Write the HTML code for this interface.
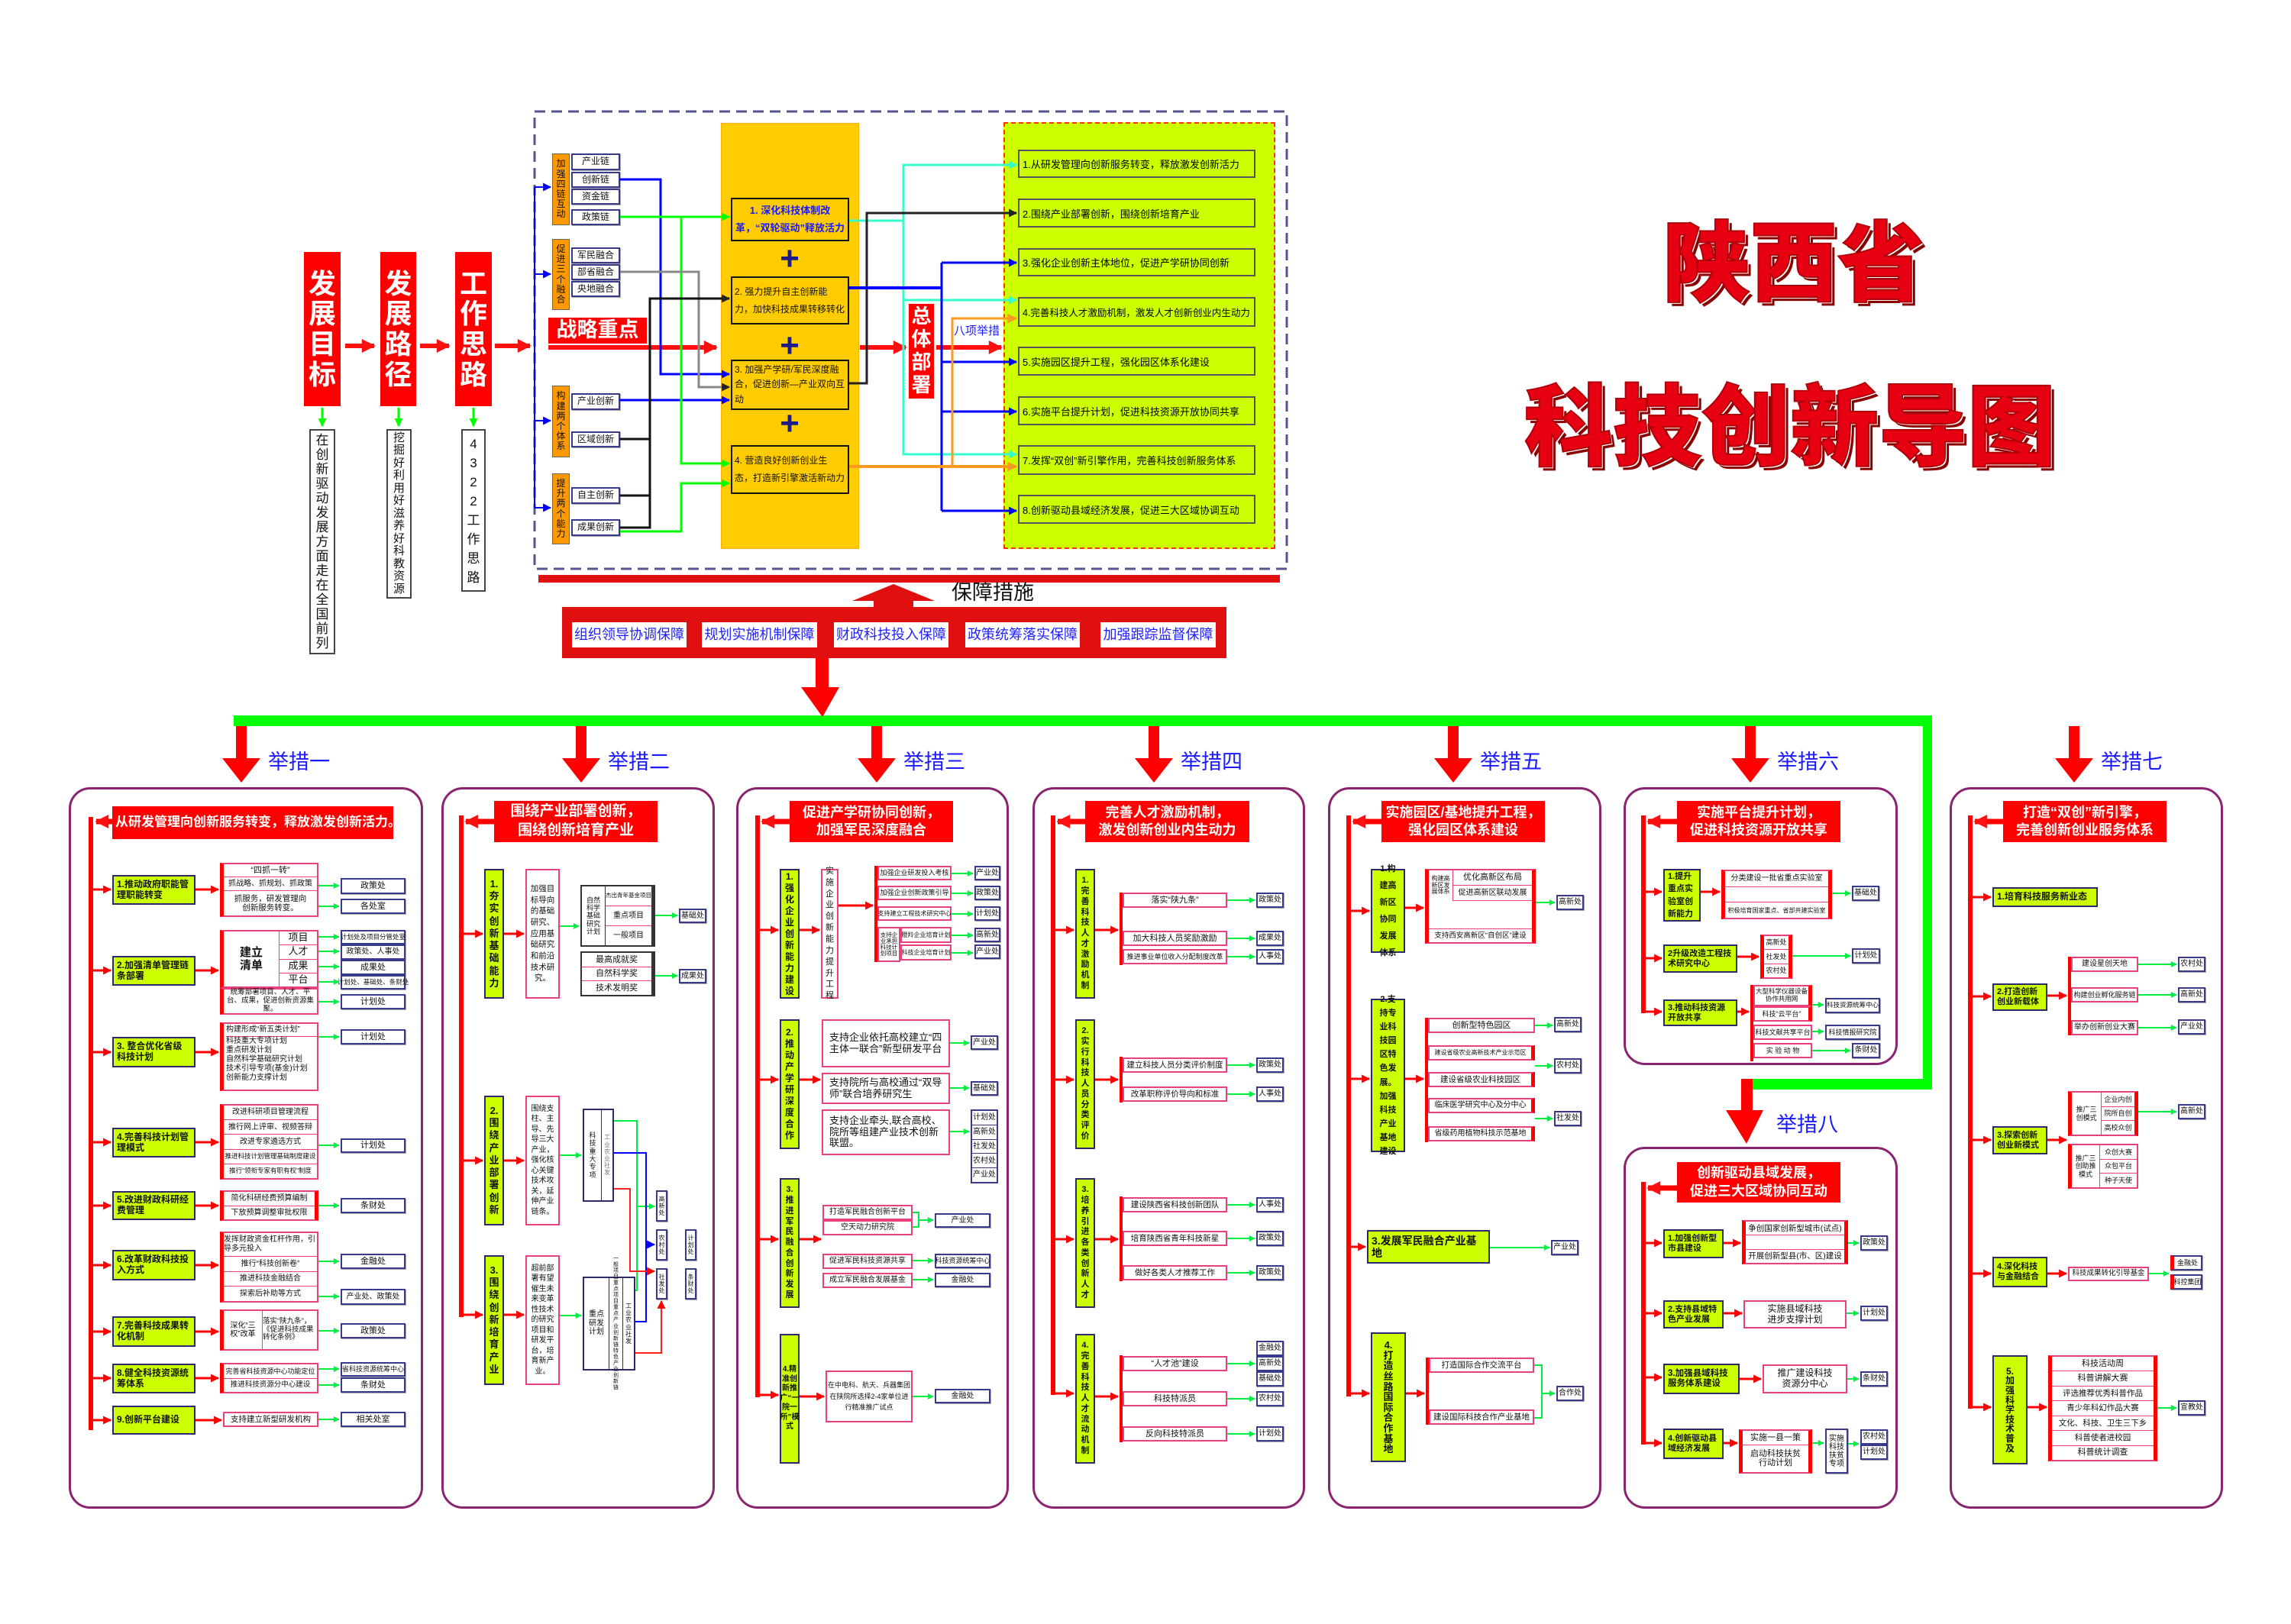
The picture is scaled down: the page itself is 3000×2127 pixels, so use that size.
<!DOCTYPE html>
<html><head><meta charset="utf-8">
<style>
*{margin:0;padding:0}
body{width:3000px;height:2127px;background:#fff;position:relative;overflow:hidden;font-family:"Liberation Sans","Noto Sans CJK SC",sans-serif}
.a{position:absolute;box-sizing:border-box;display:flex;align-items:center;justify-content:center;text-align:center;line-height:1.15;font-family:"Liberation Sans","Noto Sans CJK SC",sans-serif;color:#111}
.y{background:#ccff00;border:2px solid #2b2b6b;font-size:12px;font-weight:bold;justify-content:flex-start;text-align:left;padding:0 4px}
.v{background:#ccff00;border:2px solid #2b2b6b;font-size:13px;font-weight:bold;word-break:break-all;padding:4px 5px;line-height:1.25}
.p{background:#fff;border:2px solid #e8417e;font-size:11px}
.pv{background:#fff;border:2px solid #e8417e;font-size:11px;word-break:break-all;padding:3px 4px;line-height:1.35}
.o{background:#fff;border:2px solid #3a3a8a;font-size:11px;box-shadow:1px 1px 0 #aaa}
.t{background:#ff0000;color:#fff;font-weight:bold;font-size:19px;line-height:1.3}
.s{flex-direction:column;align-items:stretch}
.s>div{flex:1;display:flex;align-items:center;justify-content:center;border-bottom:1px solid #e8417e;font-size:11px}
.s>div:last-child{border-bottom:none}
.rl{border-left:5px solid #ff0000}
.rr{border-right:5px solid #ff0000}
.panel{position:absolute;border:3px solid #8b2470;border-radius:28px;box-sizing:border-box;background:#fff}
.lab{position:absolute;color:#1a1aff;font-size:27px;font-family:"Liberation Sans","Noto Sans CJK SC",sans-serif;line-height:1}
.big{position:absolute;color:#e60012;font-weight:900;font-family:"Liberation Sans","Noto Sans CJK SC",sans-serif;line-height:1;text-shadow:2px 2px 0 #fff,5px 5px 0 #8a0000;-webkit-text-stroke:2px #b0000a}
.e8{position:absolute;box-sizing:border-box;display:flex;align-items:center;left:1333px;width:311px;background:#ccff00;border:2px solid #555;font-size:13px;white-space:nowrap;padding-left:4px;font-family:"Liberation Sans","Noto Sans CJK SC",sans-serif;overflow:hidden}
.gb{background:#fff;color:#2020ff;font-size:18px;white-space:nowrap}
</style></head><body>

<div class="panel" style="left:90px;top:1031px;width:464px;height:945px"></div>
<div class="panel" style="left:578px;top:1031px;width:358px;height:945px"></div>
<div class="panel" style="left:964px;top:1031px;width:357px;height:945px"></div>
<div class="panel" style="left:1352px;top:1031px;width:357px;height:945px"></div>
<div class="panel" style="left:1739px;top:1031px;width:358px;height:945px"></div>
<div class="panel" style="left:2126px;top:1031px;width:359px;height:364px"></div>
<div class="panel" style="left:2126px;top:1502px;width:359px;height:474px"></div>
<div class="panel" style="left:2553px;top:1031px;width:358px;height:945px"></div>

<div class="a" style="left:944px;top:161px;width:181px;height:558px;background:#ffcc00;border:1px dotted #ff9900"></div>
<div class="a" style="left:1314px;top:160px;width:356px;height:559px;background:#ccff00;border:2px dashed #ff3300"></div>

<div class="a" style="left:306px;top:937px;width:2224px;height:14px;background:#00ff00"></div>
<div class="a" style="left:2518px;top:937px;width:12px;height:490px;background:#00ff00"></div>
<div class="a" style="left:2294px;top:1413px;width:236px;height:14px;background:#00ff00"></div>

<div class="a" style="left:705px;top:753px;width:971px;height:10px;background:#e01010"></div>
<div class="a" style="left:736px;top:795px;width:870px;height:67px;background:#e01010"></div>
<div class="a gb" style="left:749px;top:815px;width:150px;height:33px">组织领导协调保障</div>
<div class="a gb" style="left:919px;top:815px;width:151px;height:33px">规划实施机制保障</div>
<div class="a gb" style="left:1092px;top:815px;width:150px;height:33px">财政科技投入保障</div>
<div class="a gb" style="left:1264px;top:815px;width:150px;height:33px">政策统筹落实保障</div>
<div class="a gb" style="left:1441px;top:815px;width:151px;height:33px">加强跟踪监督保障</div>
<div class="a" style="left:1245px;top:761px;width:110px;height:32px;font-size:27px;color:#111">保障措施</div>

<div class="big" style="left:2178px;top:290px;font-size:114px">陕西省</div>
<div class="big" style="left:1996px;top:502px;font-size:116px">科技创新导图</div>

<div class="a t" style="left:398px;top:330px;width:48px;height:202px;font-size:36px;word-break:break-all;line-height:1.1;padding:0 6px">发展目标</div>
<div class="a t" style="left:498px;top:330px;width:47px;height:202px;font-size:36px;word-break:break-all;line-height:1.1;padding:0 6px">发展路径</div>
<div class="a t" style="left:596px;top:330px;width:48px;height:202px;font-size:36px;word-break:break-all;line-height:1.1;padding:0 6px">工作思路</div>
<div class="a" style="left:405px;top:562px;width:34px;height:295px;border:2px solid #444;font-size:17px;word-break:break-all;line-height:19px;padding:0 7px">在创新驱动发展方面走在全国前列</div>
<div class="a" style="left:506px;top:562px;width:33px;height:222px;border:2px solid #444;font-size:15px;word-break:break-all;line-height:16.5px;padding:0 7px">挖掘好利用好滋养好科教资源</div>
<div class="a" style="left:604px;top:562px;width:32px;height:213px;border:2px solid #444;font-size:17px;word-break:break-all;line-height:25px;padding:0 6px">4322工作思路</div>

<div class="a" style="left:723px;top:201px;width:23px;height:94px;background:#ff9900;border:1px solid #666;font-size:12px;word-break:break-all;padding:0 4px;line-height:1.1">加强四链互动</div>
<div class="a" style="left:723px;top:313px;width:23px;height:93px;background:#ff9900;border:1px solid #666;font-size:12px;word-break:break-all;padding:0 4px;line-height:1.1">促进三个融合</div>
<div class="a" style="left:723px;top:505px;width:23px;height:94px;background:#ff9900;border:1px solid #666;font-size:12px;word-break:break-all;padding:0 4px;line-height:1.1">构建两个体系</div>
<div class="a" style="left:723px;top:620px;width:23px;height:93px;background:#ff9900;border:1px solid #666;font-size:12px;word-break:break-all;padding:0 4px;line-height:1.1">提升两个能力</div>
<div class="a o" style="left:748px;top:201px;width:64px;height:22px;font-size:12px">产业链</div>
<div class="a o" style="left:748px;top:225px;width:64px;height:21px;font-size:12px">创新链</div>
<div class="a o" style="left:748px;top:247px;width:64px;height:21px;font-size:12px">资金链</div>
<div class="a o" style="left:748px;top:274px;width:64px;height:21px;font-size:12px">政策链</div>
<div class="a o" style="left:748px;top:324px;width:64px;height:21px;font-size:12px">军民融合</div>
<div class="a o" style="left:748px;top:346px;width:64px;height:21px;font-size:12px">部省融合</div>
<div class="a o" style="left:748px;top:368px;width:64px;height:21px;font-size:12px">央地融合</div>
<div class="a o" style="left:748px;top:515px;width:64px;height:22px;font-size:12px">产业创新</div>
<div class="a o" style="left:748px;top:565px;width:64px;height:21px;font-size:12px">区域创新</div>
<div class="a o" style="left:748px;top:638px;width:64px;height:22px;font-size:12px">自主创新</div>
<div class="a o" style="left:748px;top:680px;width:64px;height:22px;font-size:12px">成果创新</div>
<div class="a t" style="left:718px;top:416px;width:129px;height:34px;font-size:27px">战略重点</div>

<div class="a" style="left:957px;top:259px;width:155px;height:57px;background:#ffcc00;border:2px solid #111;font-size:13px;font-weight:bold;color:#1a1aff;line-height:1.7;padding:0 3px">1. 深化科技体制改革，“双轮驱动”释放活力</div>
<div class="a" style="left:957px;top:362px;width:155px;height:63px;background:#ffcc00;border:2px solid #111;font-size:12px;line-height:1.9;padding:0 3px;justify-content:flex-start;text-align:left">2. 强力提升自主创新能力，加快科技成果转移转化</div>
<div class="a" style="left:957px;top:471px;width:155px;height:66px;background:#ffcc00;border:2px solid #111;font-size:12px;line-height:1.6;padding:0 3px;justify-content:flex-start;text-align:left">3. 加强产学研/军民深度融合，促进创新—产业双向互动</div>
<div class="a" style="left:957px;top:583px;width:155px;height:64px;background:#ffcc00;border:2px solid #111;font-size:12px;line-height:1.9;padding:0 3px;justify-content:flex-start;text-align:left">4. 营造良好创新创业生态，打造新引擎激活新动力</div>
<div class="a" style="left:1016px;top:321px;width:36px;height:36px;font-size:44px;font-weight:bold;color:#1a1a8a">+</div>
<div class="a" style="left:1016px;top:435px;width:36px;height:36px;font-size:44px;font-weight:bold;color:#1a1a8a">+</div>
<div class="a" style="left:1016px;top:537px;width:36px;height:36px;font-size:44px;font-weight:bold;color:#1a1a8a">+</div>
<div class="a t" style="left:1190px;top:398px;width:33px;height:124px;font-size:26px;word-break:break-all;line-height:1.15;padding:0 4px">总体部署</div>
<div class="a" style="left:1248px;top:424px;width:62px;height:20px;font-size:15px;color:#1a1aff">八项举措</div>

<div class="e8" style="top:196px;height:37px">1.从研发管理向创新服务转变，释放激发创新活力</div>
<div class="e8" style="top:260px;height:38px">2.围绕产业部署创新，围绕创新培育产业</div>
<div class="e8" style="top:325px;height:37px">3.强化企业创新主体地位，促进产学研协同创新</div>
<div class="e8" style="top:389px;height:39px;font-size:12.5px">4.完善科技人才激励机制，激发人才创新创业内生动力</div>
<div class="e8" style="top:454px;height:38px">5.实施园区提升工程，强化园区体系化建设</div>
<div class="e8" style="top:519px;height:38px">6.实施平台提升计划，促进科技资源开放协同共享</div>
<div class="e8" style="top:583px;height:39px">7.发挥“双创”新引擎作用，完善科技创新服务体系</div>
<div class="e8" style="top:648px;height:38px">8.创新驱动县域经济发展，促进三大区域协调互动</div>

<div class="lab" style="left:351px;top:985px">举措一</div>
<div class="lab" style="left:796px;top:985px">举措二</div>
<div class="lab" style="left:1183px;top:985px">举措三</div>
<div class="lab" style="left:1546px;top:985px">举措四</div>
<div class="lab" style="left:1938px;top:985px">举措五</div>
<div class="lab" style="left:2327px;top:985px">举措六</div>
<div class="lab" style="left:2751px;top:985px">举措七</div>
<div class="lab" style="left:2326px;top:1460px">举措八</div>

<!-- Panel 1 -->
<div class="a t" style="left:147px;top:1056px;width:368px;height:43px;font-size:17px;white-space:nowrap;justify-content:flex-start;padding-left:4px">从研发管理向创新服务转变，释放激发创新活力。</div>
<div class="a y" style="left:147px;top:1146px;width:109px;height:39px">1.推动政府职能管理职能转变</div>
<div class="a y" style="left:147px;top:1252px;width:109px;height:39px">2.加强清单管理链条部署</div>
<div class="a y" style="left:147px;top:1358px;width:109px;height:40px">3. 整合优化省级科技计划</div>
<div class="a y" style="left:147px;top:1477px;width:109px;height:39px">4.完善科技计划管理模式</div>
<div class="a y" style="left:147px;top:1560px;width:109px;height:38px">5.改进财政科研经费管理</div>
<div class="a y" style="left:147px;top:1637px;width:109px;height:40px">6.改革财政科技投入方式</div>
<div class="a y" style="left:147px;top:1724px;width:109px;height:40px">7.完善科技成果转化机制</div>
<div class="a y" style="left:147px;top:1786px;width:109px;height:39px">8.健全科技资源统筹体系</div>
<div class="a y" style="left:147px;top:1841px;width:109px;height:38px">9.创新平台建设</div>

<div class="a p s rl" style="left:288px;top:1130px;width:129px;height:71px"><div>“四抓一转”</div><div style="font-size:10px">抓战略、抓规划、抓政策</div><div style="flex:2;font-size:10.5px">抓服务，研发管理向<br>创新服务转变。</div></div>
<div class="a p rl" style="left:288px;top:1218px;width:129px;height:76px;align-items:stretch;justify-content:flex-start"><div style="width:44px;border-right:1px solid #e8417e;font-size:15px;font-weight:bold;display:flex;align-items:center;justify-content:center;word-break:break-all;padding:0 14px">建立清单</div><div class="s" style="display:flex;flex:1"><div style="font-size:13px">项目</div><div style="font-size:13px">人才</div><div style="font-size:13px">成果</div><div style="font-size:13px">平台</div></div></div>
<div class="a p rl" style="left:288px;top:1294px;width:129px;height:35px;font-size:9.5px">统筹部署项目、人才、平台、成果，促进创新资源集聚。</div>
<div class="a p rl" style="left:288px;top:1339px;width:129px;height:90px;flex-direction:column;align-items:flex-start;justify-content:flex-start;text-align:left;font-size:10px;padding-left:3px"><div style="border-bottom:1px solid #e8417e;width:100%;padding:2px 0">构建形成“新五类计划”</div><div style="line-height:1.2">科技重大专项计划<br>重点研发计划<br>自然科学基础研究计划<br>技术引导专项(基金)计划<br>创新能力支撑计划</div></div>
<div class="a p s rl" style="left:288px;top:1446px;width:129px;height:99px"><div style="font-size:10px">改进科研项目管理流程</div><div style="font-size:10px">推行网上评审、视频答辩</div><div style="font-size:10px">改进专家遴选方式</div><div style="font-size:8.5px;white-space:nowrap">推进科技计划管理基础制度建设</div><div style="font-size:8.5px;white-space:nowrap">推行“领衔专家有职有权”制度</div></div>
<div class="a p s rl rr" style="left:288px;top:1559px;width:129px;height:40px"><div style="font-size:10px">简化科研经费预算编制</div><div style="font-size:10px">下放预算调整审批权限</div></div>
<div class="a p s rl" style="left:288px;top:1613px;width:129px;height:93px"><div style="flex:1.6;text-align:left;font-size:10px">发挥财政资金杠杆作用，引导多元投入</div><div style="font-size:10px">推行“科技创新卷”</div><div style="font-size:10px">推进科技金融结合</div><div style="font-size:10px">探索后补助等方式</div></div>
<div class="a p rl" style="left:288px;top:1715px;width:129px;height:54px;align-items:stretch"><div style="width:50px;border-right:1px solid #e8417e;display:flex;align-items:center;justify-content:center;font-size:10px">深化“三权”改革</div><div style="flex:1;display:flex;align-items:center;font-size:9.5px;text-align:left">落实“陕九条”，《促进科技成果转化条例》</div></div>
<div class="a p s rl" style="left:288px;top:1785px;width:129px;height:40px"><div style="font-size:9px;white-space:nowrap">完善省科技资源中心功能定位</div><div style="font-size:9.5px">推进科技资源分中心建设</div></div>
<div class="a p" style="left:292px;top:1849px;width:125px;height:20px;font-size:10.5px">支持建立新型研发机构</div>

<div class="a o" style="left:446px;top:1150px;width:85px;height:21px">政策处</div>
<div class="a o" style="left:446px;top:1177px;width:85px;height:20px">各处室</div>
<div class="a o" style="left:446px;top:1218px;width:85px;height:19px;font-size:8.5px;white-space:nowrap">计划处及项目分管处室</div>
<div class="a o" style="left:446px;top:1237px;width:85px;height:20px;font-size:10px">政策处、人事处</div>
<div class="a o" style="left:446px;top:1257px;width:85px;height:20px">成果处</div>
<div class="a o" style="left:446px;top:1277px;width:85px;height:19px;font-size:8.5px;white-space:nowrap">计划处、基础处、条财处</div>
<div class="a o" style="left:446px;top:1302px;width:85px;height:20px">计划处</div>
<div class="a o" style="left:446px;top:1348px;width:85px;height:20px">计划处</div>
<div class="a o" style="left:446px;top:1491px;width:85px;height:19px">计划处</div>
<div class="a o" style="left:446px;top:1569px;width:85px;height:20px">条财处</div>
<div class="a o" style="left:446px;top:1642px;width:85px;height:20px">金融处</div>
<div class="a o" style="left:446px;top:1688px;width:85px;height:21px;font-size:10px">产业处、政策处</div>
<div class="a o" style="left:446px;top:1733px;width:85px;height:20px">政策处</div>
<div class="a o" style="left:446px;top:1784px;width:85px;height:19px;font-size:9px;white-space:nowrap">省科技资源统筹中心</div>
<div class="a o" style="left:446px;top:1804px;width:85px;height:20px">条财处</div>
<div class="a o" style="left:446px;top:1849px;width:85px;height:20px">相关处室</div>

<!-- Panel 2 -->
<div class="a t" style="left:647px;top:1049px;width:214px;height:54px;font-size:19px">围绕产业部署创新，<br>围绕创新培育产业</div>
<div class="a v" style="left:634px;top:1138px;width:26px;height:170px">1.夯实创新基础能力</div>
<div class="a v" style="left:634px;top:1435px;width:26px;height:170px">2.围绕产业部署创新</div>
<div class="a v" style="left:634px;top:1644px;width:26px;height:170px">3.围绕创新培育产业</div>
<div class="a pv" style="left:688px;top:1138px;width:45px;height:170px;font-size:10.5px;line-height:1.4">加强目标导向的基础研究、应用基础研究和前沿技术研究。</div>
<div class="a pv" style="left:688px;top:1435px;width:45px;height:170px;font-size:10px">围绕支柱、主导、先导三大产业，强化核心关键技术攻关，延伸产业链条。</div>
<div class="a pv" style="left:688px;top:1644px;width:45px;height:170px;font-size:10px">超前部署有望催生未来变革性技术的研究项目和研发平台，培育新产业。</div>
<div class="a p rr" style="left:760px;top:1159px;width:98px;height:81px;align-items:stretch;border-color:#333"><div style="width:28px;border-right:1px solid #333;font-size:9px;display:flex;align-items:center;word-break:break-all;padding:0 2px">自然科学基础研究计划</div><div class="s" style="display:flex;flex:1"><div style="font-size:7.5px;white-space:nowrap">杰出青年基金项目</div><div style="font-size:10px">重点项目</div><div style="font-size:10px">一般项目</div></div></div>
<div class="a p s rr" style="left:760px;top:1246px;width:98px;height:59px;border-color:#333"><div>最高成就奖</div><div>自然科学奖</div><div>技术发明奖</div></div>
<div class="a o" style="left:889px;top:1190px;width:36px;height:19px;font-size:10px">基础处</div>
<div class="a o" style="left:889px;top:1269px;width:36px;height:19px;font-size:10px">成果处</div>
<div class="a" style="left:763px;top:1452px;width:41px;height:122px;border:2px solid #2b2b6b;align-items:stretch;background:#fff"><div style="flex:1;font-size:9px;word-break:break-all;display:flex;align-items:center;padding:0 4px;border-right:1px solid #2b2b6b">科技重大专项</div><div style="width:14px;font-size:8px;color:#777;display:flex;flex-direction:column;justify-content:space-around;word-break:break-all">工业农业社发</div></div>
<div class="a" style="left:763px;top:1672px;width:69px;height:123px;border:2px solid #2b2b6b;align-items:stretch;background:#fff"><div style="width:22px;font-size:10px;word-break:break-all;display:flex;align-items:center;padding:0 5px;border-right:1px solid #2b2b6b">重点研发计划</div><div style="flex:1;font-size:7px;word-break:break-all;display:flex;align-items:center;padding:0 2px;border-right:1px solid #2b2b6b">一般项目重点项目重点产业创新链特色产业创新链</div><div style="width:14px;font-size:8px;word-break:break-all;display:flex;align-items:center">工业农业社发</div></div>
<div class="a o" style="left:859px;top:1559px;width:15px;height:41px;font-size:8px;word-break:break-all">高新处</div>
<div class="a o" style="left:859px;top:1610px;width:15px;height:41px;font-size:8px;word-break:break-all">农村处</div>
<div class="a o" style="left:859px;top:1661px;width:15px;height:41px;font-size:8px;word-break:break-all">社发处</div>
<div class="a o" style="left:897px;top:1610px;width:15px;height:41px;font-size:8px;word-break:break-all">计划处</div>
<div class="a o" style="left:897px;top:1661px;width:15px;height:41px;font-size:8px;word-break:break-all">条财处</div>

<!-- Panel 3 -->
<div class="a t" style="left:1034px;top:1049px;width:214px;height:54px;font-size:18px">促进产学研协同创新，<br>加强军民深度融合</div>
<div class="a v" style="left:1021px;top:1138px;width:26px;height:170px;font-size:12px">1.强化企业创新能力建设</div>
<div class="a v" style="left:1021px;top:1335px;width:26px;height:170px;font-size:12px">2.推动产学研深度合作</div>
<div class="a v" style="left:1021px;top:1543px;width:26px;height:170px;font-size:11px">3.推进军民融合创新发展</div>
<div class="a v" style="left:1021px;top:1747px;width:26px;height:170px;font-size:10px;padding:2px">4.精准创新推广“一院一所”模式</div>
<div class="a pv" style="left:1075px;top:1138px;width:23px;height:170px;padding:2px 5px">实施企业创新能力提升工程</div>
<div class="a" style="left:1145px;top:1134px;width:4px;height:126px;background:#ff0000"></div>
<div class="a p" style="left:1149px;top:1134px;width:97px;height:19px;font-size:9px;white-space:nowrap">加强企业研发投入考核</div>
<div class="a p" style="left:1149px;top:1160px;width:97px;height:19px;font-size:9px;white-space:nowrap">加强企业创新政策引导</div>
<div class="a p" style="left:1149px;top:1187px;width:97px;height:19px;font-size:8px;white-space:nowrap">支持建立工程技术研究中心</div>
<div class="a p" style="left:1149px;top:1214px;width:30px;height:46px;font-size:7.5px;line-height:1.05">支持企业承担科技计划项目</div>
<div class="a p" style="left:1179px;top:1214px;width:67px;height:21px;font-size:8px;white-space:nowrap">瞪羚企业培育计划</div>
<div class="a p" style="left:1179px;top:1237px;width:67px;height:21px;font-size:8px;white-space:nowrap">科技企业培育计划</div>
<div class="a o" style="left:1276px;top:1134px;width:34px;height:19px;font-size:10px">产业处</div>
<div class="a o" style="left:1276px;top:1160px;width:34px;height:19px;font-size:10px">政策处</div>
<div class="a o" style="left:1276px;top:1187px;width:34px;height:19px;font-size:10px">计划处</div>
<div class="a o" style="left:1276px;top:1215px;width:34px;height:19px;font-size:10px">高新处</div>
<div class="a o" style="left:1276px;top:1237px;width:34px;height:19px;font-size:10px">产业处</div>
<div class="a p" style="left:1076px;top:1335px;width:168px;height:63px;font-size:13px;text-align:left;justify-content:flex-start;padding:0 8px">支持企业依托高校建立“四主体一联合”新型研发平台</div>
<div class="a p" style="left:1076px;top:1405px;width:168px;height:41px;font-size:13px;text-align:left;justify-content:flex-start;padding:0 8px">支持院所与高校通过“双导师”联合培养研究生</div>
<div class="a p" style="left:1076px;top:1453px;width:168px;height:60px;font-size:13px;text-align:left;justify-content:flex-start;padding:0 8px">支持企业牵头,联合高校、院所等组建产业技术创新联盟。</div>
<div class="a o" style="left:1271px;top:1356px;width:36px;height:19px;font-size:10px">产业处</div>
<div class="a o" style="left:1271px;top:1416px;width:36px;height:19px;font-size:10px">基础处</div>
<div class="a o s" style="left:1271px;top:1453px;width:36px;height:97px;box-shadow:none"><div style="border-color:#3a3a8a;font-size:10px">计划处</div><div style="border-color:#3a3a8a;font-size:10px">高新处</div><div style="border-color:#3a3a8a;font-size:10px">社发处</div><div style="border-color:#3a3a8a;font-size:10px">农村处</div><div style="font-size:10px">产业处</div></div>
<div class="a p" style="left:1077px;top:1578px;width:118px;height:20px;font-size:10px">打造军民融合创新平台</div>
<div class="a p" style="left:1077px;top:1598px;width:118px;height:20px;font-size:10px">空天动力研究院</div>
<div class="a o" style="left:1224px;top:1589px;width:73px;height:19px;font-size:10px">产业处</div>
<div class="a p" style="left:1077px;top:1642px;width:118px;height:20px;font-size:10px">促进军民科技资源共享</div>
<div class="a p" style="left:1077px;top:1667px;width:118px;height:20px;font-size:10px">成立军民融合发展基金</div>
<div class="a o" style="left:1224px;top:1642px;width:73px;height:19px;font-size:9px;white-space:nowrap">科技资源统筹中心</div>
<div class="a o" style="left:1224px;top:1667px;width:73px;height:19px;font-size:10px">金融处</div>
<div class="a p" style="left:1081px;top:1795px;width:114px;height:68px;font-size:9px;line-height:1.6">在中电科、航天、兵器集团在陕院所选择2-4家单位进行精准推广试点</div>
<div class="a o" style="left:1224px;top:1819px;width:73px;height:19px;font-size:10px">金融处</div>

<!-- Panel 4 -->
<div class="a t" style="left:1421px;top:1049px;width:215px;height:54px;font-size:18px">完善人才激励机制，<br>激发创新创业内生动力</div>
<div class="a v" style="left:1408px;top:1138px;width:26px;height:170px;font-size:11px">1.完善科技人才激励机制</div>
<div class="a v" style="left:1408px;top:1335px;width:26px;height:170px;font-size:11px">2.实行科技人员分类评价</div>
<div class="a v" style="left:1408px;top:1543px;width:26px;height:170px;font-size:11px">3.培养引进各类创新人才</div>
<div class="a v" style="left:1408px;top:1747px;width:26px;height:170px;font-size:11px">4.完善科技人才流动机制</div>
<div class="a" style="left:1466px;top:1169px;width:4px;height:95px;background:#ff0000"></div>
<div class="a" style="left:1466px;top:1384px;width:4px;height:60px;background:#ff0000"></div>
<div class="a" style="left:1466px;top:1567px;width:4px;height:111px;background:#ff0000"></div>
<div class="a" style="left:1466px;top:1775px;width:4px;height:114px;background:#ff0000"></div>
<div class="a p" style="left:1470px;top:1169px;width:137px;height:20px;font-size:11px">落实“陕九条”</div>
<div class="a p" style="left:1470px;top:1219px;width:137px;height:20px;font-size:11px">加大科技人员奖励激励</div>
<div class="a p" style="left:1470px;top:1243px;width:137px;height:20px;font-size:9px;white-space:nowrap">推进事业单位收入分配制度改革</div>
<div class="a p" style="left:1470px;top:1385px;width:137px;height:20px;font-size:10.5px">建立科技人员分类评价制度</div>
<div class="a p" style="left:1470px;top:1423px;width:137px;height:20px;font-size:10.5px">改革职称评价导向和标准</div>
<div class="a p" style="left:1470px;top:1568px;width:137px;height:20px;font-size:10.5px">建设陕西省科技创新团队</div>
<div class="a p" style="left:1470px;top:1612px;width:137px;height:20px;font-size:10.5px">培育陕西省青年科技新星</div>
<div class="a p" style="left:1470px;top:1657px;width:137px;height:20px;font-size:10.5px">做好各类人才推荐工作</div>
<div class="a p" style="left:1470px;top:1776px;width:137px;height:20px;font-size:11px">“人才池”建设</div>
<div class="a p" style="left:1470px;top:1822px;width:137px;height:20px;font-size:11px">科技特派员</div>
<div class="a p" style="left:1470px;top:1868px;width:137px;height:20px;font-size:11px">反向科技特派员</div>
<div class="a o" style="left:1645px;top:1169px;width:36px;height:20px;font-size:10px">政策处</div>
<div class="a o" style="left:1645px;top:1219px;width:36px;height:20px;font-size:10px">成果处</div>
<div class="a o" style="left:1645px;top:1243px;width:36px;height:20px;font-size:10px">人事处</div>
<div class="a o" style="left:1645px;top:1385px;width:36px;height:20px;font-size:10px">政策处</div>
<div class="a o" style="left:1645px;top:1423px;width:36px;height:20px;font-size:10px">人事处</div>
<div class="a o" style="left:1645px;top:1568px;width:36px;height:20px;font-size:10px">人事处</div>
<div class="a o" style="left:1645px;top:1612px;width:36px;height:20px;font-size:10px">政策处</div>
<div class="a o" style="left:1645px;top:1657px;width:36px;height:20px;font-size:10px">政策处</div>
<div class="a o" style="left:1645px;top:1756px;width:36px;height:20px;font-size:10px">金融处</div>
<div class="a o" style="left:1645px;top:1776px;width:36px;height:20px;font-size:10px">高新处</div>
<div class="a o" style="left:1645px;top:1796px;width:36px;height:20px;font-size:10px">基础处</div>
<div class="a o" style="left:1645px;top:1822px;width:36px;height:20px;font-size:10px">农村处</div>
<div class="a o" style="left:1645px;top:1868px;width:36px;height:20px;font-size:10px">计划处</div>

<!-- Panel 5 -->
<div class="a t" style="left:1809px;top:1049px;width:214px;height:54px;font-size:18px">实施园区/基地提升工程，<br>强化园区体系建设</div>
<div class="a v" style="left:1795px;top:1138px;width:45px;height:110px;font-size:11px;line-height:2">1.构建高新区协同发展体系</div>
<div class="a p rl rr" style="left:1866px;top:1138px;width:145px;height:98px"></div>
<div class="a" style="left:1871px;top:1140px;width:32px;height:40px;font-size:8px;line-height:1.1;border-right:1px solid #e8417e">构建高新区发展体系</div>
<div class="a" style="left:1903px;top:1140px;width:103px;height:20px;font-size:11px;border-bottom:1px solid #e8417e">优化高新区布局</div>
<div class="a" style="left:1903px;top:1160px;width:103px;height:20px;font-size:10px;border-bottom:1px solid #e8417e">促进高新区联动发展</div>
<div class="a" style="left:1871px;top:1216px;width:135px;height:19px;font-size:9.5px;white-space:nowrap;border-top:1px solid #e8417e">支持西安高新区“自创区”建设</div>
<div class="a o" style="left:2038px;top:1172px;width:36px;height:20px;font-size:10px">高新处</div>
<div class="a v" style="left:1795px;top:1308px;width:45px;height:201px;font-size:11px;line-height:1.65">2.支持专业科技园区特色发展。加强科技产业基地建设</div>
<div class="a" style="left:1866px;top:1333px;width:4px;height:163px;background:#ff0000"></div>
<div class="a p" style="left:1870px;top:1333px;width:140px;height:20px;font-size:11px">创新型特色园区</div>
<div class="a p rr" style="left:1870px;top:1369px;width:140px;height:20px;font-size:8px;white-space:nowrap">建设省级农业高新技术产业示范区</div>
<div class="a p rr" style="left:1870px;top:1404px;width:140px;height:20px;font-size:10.5px">建设省级农业科技园区</div>
<div class="a p rr" style="left:1870px;top:1438px;width:140px;height:20px;font-size:10px">临床医学研究中心及分中心</div>
<div class="a p rr" style="left:1870px;top:1475px;width:140px;height:20px;font-size:10px">省级药用植物科技示范基地</div>
<div class="a o" style="left:2035px;top:1332px;width:36px;height:20px;font-size:10px">高新处</div>
<div class="a o" style="left:2035px;top:1386px;width:36px;height:20px;font-size:10px">农村处</div>
<div class="a o" style="left:2035px;top:1455px;width:36px;height:20px;font-size:10px">社发处</div>
<div class="a y" style="left:1790px;top:1611px;width:161px;height:44px;font-size:14px">3.发展军民融合产业基地</div>
<div class="a o" style="left:2031px;top:1624px;width:36px;height:20px;font-size:10px">产业处</div>
<div class="a v" style="left:1795px;top:1745px;width:46px;height:170px;font-size:13px;padding:4px 15px;line-height:1.05">4.打造丝路国际合作基地</div>
<div class="a" style="left:1867px;top:1778px;width:4px;height:88px;background:#ff0000"></div>
<div class="a p" style="left:1871px;top:1778px;width:138px;height:20px;font-size:10.5px">打造国际合作交流平台</div>
<div class="a p" style="left:1871px;top:1846px;width:138px;height:20px;font-size:10.5px">建设国际科技合作产业基地</div>
<div class="a o" style="left:2038px;top:1815px;width:36px;height:20px;font-size:10px">合作处</div>

<!-- Panel 6 -->
<div class="a t" style="left:2196px;top:1049px;width:214px;height:54px;font-size:18px">实施平台提升计划，<br>促进科技资源开放共享</div>
<div class="a y" style="left:2178px;top:1138px;width:49px;height:69px;font-size:11px;line-height:1.5">1.提升重点实验室创新能力</div>
<div class="a p rl rr s" style="left:2254px;top:1139px;width:145px;height:65px"><div style="font-size:10px">分类建设一批省重点实验室</div><div></div><div style="font-size:8px;white-space:nowrap">积极培育国家重点、省部共建实验室</div></div>
<div class="a o" style="left:2425px;top:1160px;width:36px;height:20px;font-size:10px">基础处</div>
<div class="a y" style="left:2178px;top:1237px;width:97px;height:37px;font-size:11px">2升级改造工程技术研究中心</div>
<div class="a p rl rr s" style="left:2305px;top:1224px;width:42px;height:58px"><div style="font-size:9px">高新处</div><div style="font-size:9px">社发处</div><div style="font-size:9px">农村处</div></div>
<div class="a o" style="left:2425px;top:1242px;width:37px;height:20px;font-size:10px">计划处</div>
<div class="a y" style="left:2178px;top:1309px;width:97px;height:35px;font-size:11px">3.推动科技资源开放共享</div>
<div class="a" style="left:2292px;top:1290px;width:4px;height:100px;background:#ff0000"></div>
<div class="a p rr" style="left:2296px;top:1290px;width:77px;height:28px;font-size:8.5px">大型科学仪器设备协作共用网</div>
<div class="a p rr" style="left:2296px;top:1318px;width:77px;height:20px;font-size:9px">科技“云平台”</div>
<div class="a p" style="left:2296px;top:1342px;width:77px;height:20px;font-size:9px">科技文献共享平台</div>
<div class="a p" style="left:2296px;top:1366px;width:77px;height:20px;font-size:9px">实 验 动 物</div>
<div class="a o" style="left:2390px;top:1307px;width:72px;height:20px;font-size:8.5px;white-space:nowrap">科技资源统筹中心</div>
<div class="a o" style="left:2390px;top:1342px;width:72px;height:20px;font-size:9px">科技情报研究院</div>
<div class="a o" style="left:2425px;top:1366px;width:37px;height:20px;font-size:10px">条财处</div>

<!-- Panel 8 -->
<div class="a t" style="left:2196px;top:1522px;width:214px;height:53px;font-size:18px">创新驱动县域发展，<br>促进三大区域协同互动</div>
<div class="a y" style="left:2178px;top:1610px;width:79px;height:38px;font-size:11px">1.加强创新型市县建设</div>
<div class="a p rl rr s" style="left:2281px;top:1598px;width:139px;height:58px"><div style="font-size:10.5px">争创国家创新型城市(试点)</div><div></div><div style="font-size:10.5px">开展创新型县(市、区)建设</div></div>
<div class="a o" style="left:2436px;top:1618px;width:36px;height:20px;font-size:10px">政策处</div>
<div class="a y" style="left:2178px;top:1703px;width:79px;height:37px;font-size:11px">2.支持县域特色产业发展</div>
<div class="a p" style="left:2283px;top:1703px;width:135px;height:37px;font-size:12px;padding:0 25px">实施县域科技进步支撑计划</div>
<div class="a o" style="left:2436px;top:1710px;width:36px;height:20px;font-size:10px">计划处</div>
<div class="a y" style="left:2178px;top:1786px;width:100px;height:40px;font-size:11.5px">3.加强县域科技服务体系建设</div>
<div class="a p" style="left:2308px;top:1787px;width:111px;height:38px;font-size:12px;padding:0 16px">推广建设科技资源分中心</div>
<div class="a o" style="left:2436px;top:1796px;width:36px;height:20px;font-size:10px">条财处</div>
<div class="a y" style="left:2178px;top:1871px;width:79px;height:40px;font-size:11px">4.创新驱动县域经济发展</div>
<div class="a p rl rr s" style="left:2277px;top:1872px;width:96px;height:58px"><div style="font-size:11px">实施一县一策</div><div style="flex:2;font-size:11px;padding:0 6px">启动科技扶贫行动计划</div></div>
<div class="a o" style="left:2390px;top:1871px;width:30px;height:59px;font-size:10px;line-height:1.1;padding:0 2px">实施科技扶贫专项</div>
<div class="a o" style="left:2436px;top:1872px;width:36px;height:20px;font-size:10px">农村处</div>
<div class="a o" style="left:2436px;top:1892px;width:36px;height:20px;font-size:10px">计划处</div>

<!-- Panel 7 -->
<div class="a t" style="left:2623px;top:1049px;width:214px;height:54px;font-size:18px">打造“双创”新引擎，<br>完善创新创业服务体系</div>
<div class="a y" style="left:2609px;top:1162px;width:138px;height:26px;font-size:12px">1.培育科技服务新业态</div>
<div class="a y" style="left:2609px;top:1288px;width:72px;height:36px;font-size:11px">2.打造创新创业新载体</div>
<div class="a" style="left:2708px;top:1253px;width:4px;height:103px;background:#ff0000"></div>
<div class="a p" style="left:2712px;top:1253px;width:88px;height:20px;font-size:10px">建设星创天地</div>
<div class="a p" style="left:2712px;top:1293px;width:88px;height:20px;font-size:9px;white-space:nowrap">构建创业孵化服务链</div>
<div class="a p" style="left:2712px;top:1336px;width:88px;height:20px;font-size:10px">举办创新创业大赛</div>
<div class="a o" style="left:2852px;top:1253px;width:36px;height:20px;font-size:10px">农村处</div>
<div class="a o" style="left:2852px;top:1293px;width:36px;height:20px;font-size:10px">高新处</div>
<div class="a o" style="left:2852px;top:1335px;width:36px;height:20px;font-size:10px">产业处</div>
<div class="a y" style="left:2609px;top:1475px;width:72px;height:37px;font-size:11px">3.探索创新创业新模式</div>
<div class="a p rl rr" style="left:2708px;top:1429px;width:92px;height:59px;align-items:stretch"><div style="width:32px;border-right:1px solid #e8417e;font-size:9px;display:flex;align-items:center;padding:0 3px">推广三创模式</div><div class="s" style="display:flex;flex:1"><div style="font-size:9px">企业内创</div><div style="font-size:9px">院所自创</div><div style="font-size:9px">高校众创</div></div></div>
<div class="a p rl" style="left:2708px;top:1498px;width:92px;height:59px;align-items:stretch"><div style="width:32px;border-right:1px solid #e8417e;font-size:9px;display:flex;align-items:center;padding:0 2px">推广三创助推模式</div><div class="s" style="display:flex;flex:1"><div style="font-size:9px">众创大赛</div><div style="font-size:9px">众包平台</div><div style="font-size:9px">种子天使</div></div></div>
<div class="a o" style="left:2852px;top:1446px;width:36px;height:20px;font-size:10px">高新处</div>
<div class="a y" style="left:2609px;top:1646px;width:72px;height:40px;font-size:11px">4.深化科技与金融结合</div>
<div class="a p" style="left:2708px;top:1659px;width:106px;height:19px;font-size:9.5px">科技成果转化引导基金</div>
<div class="a o rl" style="left:2842px;top:1644px;width:42px;height:20px;font-size:9px">金融处</div>
<div class="a o rl" style="left:2842px;top:1669px;width:42px;height:20px;font-size:9px;white-space:nowrap">科控集团</div>
<div class="a v" style="left:2609px;top:1775px;width:46px;height:143px;font-size:12px;padding:3px 15px;line-height:1.05">5.加强科学技术普及</div>
<div class="a p rl rr s" style="left:2682px;top:1775px;width:143px;height:139px"><div style="font-size:11px">科技活动周</div><div style="font-size:11px">科普讲解大赛</div><div style="font-size:10.5px">评选推荐优秀科普作品</div><div style="font-size:10.5px">青少年科幻作品大赛</div><div style="font-size:10.5px">文化、科技、卫生三下乡</div><div style="font-size:10.5px">科普使者进校园</div><div style="font-size:11px">科普统计调查</div></div>
<div class="a o" style="left:2852px;top:1834px;width:36px;height:20px;font-size:10px">宣教处</div>

<svg width="3000" height="2127" style="position:absolute;left:0;top:0" xmlns="http://www.w3.org/2000/svg">
<defs>
<marker id="r" viewBox="0 0 10 10" refX="9" refY="5" markerUnits="userSpaceOnUse" markerWidth="14" markerHeight="11" orient="auto"><path d="M0 0L10 5L0 10z" fill="#ff0000"/></marker>
<marker id="g" viewBox="0 0 10 10" refX="9" refY="5" markerUnits="userSpaceOnUse" markerWidth="12" markerHeight="8" orient="auto"><path d="M0 0L10 5L0 10z" fill="#00ee44"/></marker>
<marker id="b" viewBox="0 0 10 10" refX="9" refY="5" markerUnits="userSpaceOnUse" markerWidth="16" markerHeight="11" orient="auto"><path d="M0 0L10 5L0 10z" fill="#0000ff"/></marker>
<marker id="k" viewBox="0 0 10 10" refX="9" refY="5" markerUnits="userSpaceOnUse" markerWidth="16" markerHeight="11" orient="auto"><path d="M0 0L10 5L0 10z" fill="#222"/></marker>
<marker id="c" viewBox="0 0 10 10" refX="9" refY="5" markerUnits="userSpaceOnUse" markerWidth="16" markerHeight="11" orient="auto"><path d="M0 0L10 5L0 10z" fill="#33ffcc"/></marker>
<marker id="o" viewBox="0 0 10 10" refX="9" refY="5" markerUnits="userSpaceOnUse" markerWidth="18" markerHeight="13" orient="auto"><path d="M0 0L10 5L0 10z" fill="#ff9922"/></marker>
<marker id="gg" viewBox="0 0 10 10" refX="9" refY="5" markerUnits="userSpaceOnUse" markerWidth="16" markerHeight="11" orient="auto"><path d="M0 0L10 5L0 10z" fill="#00ff00"/></marker>
<marker id="R" viewBox="0 0 10 10" refX="9" refY="5" markerUnits="userSpaceOnUse" markerWidth="24" markerHeight="18" orient="auto"><path d="M0 0L10 5L0 10z" fill="#ff1010"/></marker>
</defs>
<rect x="700" y="146" width="985" height="599" fill="none" stroke="#55558f" stroke-width="3" stroke-dasharray="14 8"/>
<g stroke="#ff1010" stroke-width="6" fill="none">
<path d="M452 453H490" marker-end="url(#R)"/><path d="M550 453H588" marker-end="url(#R)"/><path d="M648 453H694" marker-end="url(#R)"/>
<path d="M718 455H938" marker-end="url(#R)"/><path d="M1126 455H1186" marker-end="url(#R)"/><path d="M1226 455H1311" marker-end="url(#R)"/>
</g>
<g stroke="#00ff00" stroke-width="3" fill="none">
<path d="M422 534V558" marker-end="url(#gg)"/><path d="M522 534V558" marker-end="url(#gg)"/><path d="M620 534V558" marker-end="url(#gg)"/>
</g>
<g stroke="#0000ff" stroke-width="2" fill="none">
<path d="M700 245V665"/><path d="M700 245H721" marker-end="url(#b)"/><path d="M700 359H721" marker-end="url(#b)"/><path d="M700 551H721" marker-end="url(#b)"/><path d="M700 665H721" marker-end="url(#b)"/>
</g>
<g fill="none" stroke-width="3">
<path d="M812 235H865V490H955" stroke="#0000ff" marker-end="url(#b)"/>
<path d="M812 524H955" stroke="#0000ff" marker-end="url(#b)"/>
<path d="M812 284H955" stroke="#00ff00" marker-end="url(#gg)"/>
<path d="M892 284V607H955" stroke="#00ff00" marker-end="url(#gg)"/>
<path d="M812 696H892V633H955" stroke="#00ff00" marker-end="url(#gg)"/>
<path d="M812 356H915V507H955" stroke="#888" marker-end="url(#k)"/>
<path d="M812 575H851V391H955" stroke="#111" marker-end="url(#k)"/>
<path d="M812 649H851M812 691H851V575" stroke="#111"/>
<path d="M1112 289H1183V216H1331" stroke="#33ffcc" marker-end="url(#c)"/>
<path d="M1183 289V393H1331" stroke="#33ffcc" marker-end="url(#c)"/>
<path d="M1183 393V595H1331" stroke="#33ffcc" marker-end="url(#c)"/>
<path d="M1112 502H1135V279H1331" stroke="#222" marker-end="url(#k)"/>
<path d="M1112 377H1233" stroke="#0000ff" stroke-width="4"/>
<path d="M1233 344V669" stroke="#0000ff"/>
<path d="M1233 344H1331" stroke="#0000ff" marker-end="url(#b)"/><path d="M1233 474H1331" stroke="#0000ff" marker-end="url(#b)"/><path d="M1233 539H1331" stroke="#0000ff" marker-end="url(#b)"/><path d="M1233 669H1331" stroke="#0000ff" marker-end="url(#b)"/>
<path d="M1112 611H1331" stroke="#ff9922" stroke-width="4" marker-end="url(#o)"/>
<path d="M1247 611V417H1331" stroke="#ff9922" marker-end="url(#o)"/>
</g>
<path d="M1144 795V787H1116L1170 765L1224 787H1196V795Z" fill="#e01010"/>
<path d="M1068 862H1085V900H1099L1077 939L1049 900H1068Z" fill="#ff0000"/>
<g fill="#ff0000">
<path d="M309 951h14v42h18l-25 32l-25-32h18z"/>
<path d="M754 951h14v42h18l-25 32l-25-32h18z"/>
<path d="M1141 951h14v42h18l-25 32l-25-32h18z"/>
<path d="M1504 951h14v42h18l-25 32l-25-32h18z"/>
<path d="M1896 951h14v42h18l-25 32l-25-32h18z"/>
<path d="M2285 951h14v42h18l-25 32l-25-32h18z"/>
<path d="M2709 951h14v42h18l-25 32l-25-32h18z"/>
<path d="M2280 1413h15v41h14l-22 44l-27-44h20z"/>
</g>
<g stroke="#ff0000" stroke-width="6" fill="none">
<path d="M119 1070V1873"/><path d="M604 1068V1725"/><path d="M992 1068V1830"/><path d="M1379 1068V1827"/><path d="M1766 1068V1829"/><path d="M2152 1068V1327"/><path d="M2152 1548V1892"/><path d="M2580 1068V1845"/>
</g>
<g stroke="#ff0000" stroke-width="7" fill="none">
<path d="M147 1076H126" marker-end="url(#R)"/><path d="M647 1076H610" marker-end="url(#R)"/><path d="M1034 1076H998" marker-end="url(#R)"/><path d="M1421 1076H1385" marker-end="url(#R)"/><path d="M1809 1076H1772" marker-end="url(#R)"/><path d="M2196 1076H2158" marker-end="url(#R)"/><path d="M2196 1556H2158" marker-end="url(#R)"/><path d="M2623 1076H2586" marker-end="url(#R)"/>
</g>
<g stroke="#ff0000" stroke-width="3" fill="none" marker-end="url(#r)">
<path d="M119 1165H145"/><path d="M119 1271H145"/><path d="M119 1378H145"/><path d="M119 1496H145"/><path d="M119 1579H145"/><path d="M119 1657H145"/><path d="M119 1744H145"/><path d="M119 1805H145"/><path d="M119 1860H145"/>
<path d="M256 1165H286"/><path d="M256 1271H286"/><path d="M256 1378H286"/><path d="M256 1496H286"/><path d="M256 1579H286"/><path d="M256 1657H286"/><path d="M256 1744H286"/><path d="M256 1805H286"/><path d="M256 1860H290"/>
<path d="M604 1223H632"/><path d="M604 1520H632"/><path d="M604 1722H632"/>
<path d="M660 1223H686"/><path d="M660 1520H686"/><path d="M660 1722H686"/>
<path d="M992 1218H1019"/><path d="M992 1414H1019"/><path d="M992 1623H1019"/><path d="M992 1827H1019"/>
<path d="M1047 1218H1073"/><path d="M1047 1414H1074"/><path d="M1047 1623H1075"/><path d="M1047 1829H1079"/>
<path d="M1098 1186H1143"/>
<path d="M1379 1218H1406"/><path d="M1379 1414H1406"/><path d="M1379 1623H1406"/><path d="M1379 1825H1406"/>
<path d="M1434 1218H1464"/><path d="M1434 1414H1464"/><path d="M1434 1623H1464"/><path d="M1434 1829H1464"/>
<path d="M1766 1193H1793"/><path d="M1840 1189H1864"/><path d="M1766 1413H1793"/><path d="M1840 1413H1864"/><path d="M1766 1633H1788"/><path d="M1766 1825H1793"/><path d="M1841 1825H1865"/>
<path d="M2152 1168H2176"/><path d="M2227 1168H2252"/><path d="M2152 1255H2176"/><path d="M2275 1253H2303"/><path d="M2152 1325H2176"/><path d="M2275 1325H2290"/>
<path d="M2152 1628H2176"/><path d="M2257 1628H2279"/><path d="M2152 1720H2176"/><path d="M2257 1720H2281"/><path d="M2152 1804H2176"/><path d="M2278 1806H2306"/><path d="M2152 1890H2176"/><path d="M2257 1890H2275"/>
<path d="M2580 1175H2607"/><path d="M2580 1305H2607"/><path d="M2681 1304H2706"/><path d="M2580 1493H2607"/><path d="M2681 1493H2706"/><path d="M2580 1668H2607"/><path d="M2681 1668H2706"/><path d="M2580 1843H2607"/><path d="M2655 1843H2680"/>
</g>
<g stroke="#00ee44" stroke-width="2" fill="none" marker-end="url(#g)">
<path d="M417 1160H444"/><path d="M417 1187H444"/><path d="M417 1227H444"/><path d="M417 1246H444"/><path d="M417 1266H444"/><path d="M417 1286H444"/><path d="M417 1312H444"/><path d="M417 1358H444"/><path d="M417 1500H444"/><path d="M417 1579H444"/><path d="M417 1652H444"/><path d="M417 1698H444"/><path d="M417 1743H444"/><path d="M417 1793H444"/><path d="M417 1814H444"/><path d="M417 1859H444"/>
<path d="M733 1213H758"/><path d="M733 1513H761"/><path d="M733 1723H761"/><path d="M858 1199H887"/><path d="M858 1278H887"/><path d="M834 1580H857"/>
<path d="M1246 1144H1274"/><path d="M1246 1170H1274"/><path d="M1246 1197H1274"/><path d="M1246 1225H1274"/><path d="M1246 1248H1274"/>
<path d="M1244 1366H1269"/><path d="M1244 1425H1269"/><path d="M1244 1482H1269"/>
<path d="M1203 1598H1222"/><path d="M1195 1651H1222"/><path d="M1195 1676H1222"/><path d="M1195 1829H1222"/>
<path d="M1607 1179H1643"/><path d="M1607 1229H1643"/><path d="M1607 1253H1643"/><path d="M1607 1395H1643"/><path d="M1607 1433H1643"/><path d="M1607 1578H1643"/><path d="M1607 1622H1643"/><path d="M1607 1667H1643"/><path d="M1607 1786H1643"/><path d="M1607 1832H1643"/><path d="M1607 1878H1643"/>
<path d="M2011 1182H2036"/><path d="M2010 1343H2033"/><path d="M2010 1396H2033"/><path d="M2010 1465H2033"/><path d="M1951 1634H2029"/><path d="M2019 1825H2036"/>
<path d="M2399 1170H2423"/><path d="M2347 1252H2423"/><path d="M2373 1316H2388"/><path d="M2373 1351H2388"/><path d="M2373 1376H2423"/>
<path d="M2420 1628H2434"/><path d="M2418 1720H2434"/><path d="M2419 1806H2434"/><path d="M2373 1890H2388"/><path d="M2420 1891H2434"/>
<path d="M2800 1263H2850"/><path d="M2800 1303H2850"/><path d="M2800 1346H2850"/><path d="M2800 1456H2850"/><path d="M2814 1668H2840"/><path d="M2825 1844H2850"/>
</g>
<g stroke="#00ee44" stroke-width="2" fill="none">
<path d="M1195 1588H1203V1607H1195"/><path d="M2009 1788H2019V1857H2009"/>
<path d="M804 1468H834V1690H832"/>
</g>
<g stroke="#0000ff" stroke-width="2" fill="none"><path d="M804 1510H846V1731H832"/><path d="M846 1630H857" marker-end="url(#b)"/></g>
<g stroke="#ff2020" stroke-width="2" fill="none"><path d="M804 1557H825V1665H857" marker-end="url(#r)"/><path d="M832 1772H866V1704" marker-end="url(#r)"/></g>
</svg>
</body></html>
